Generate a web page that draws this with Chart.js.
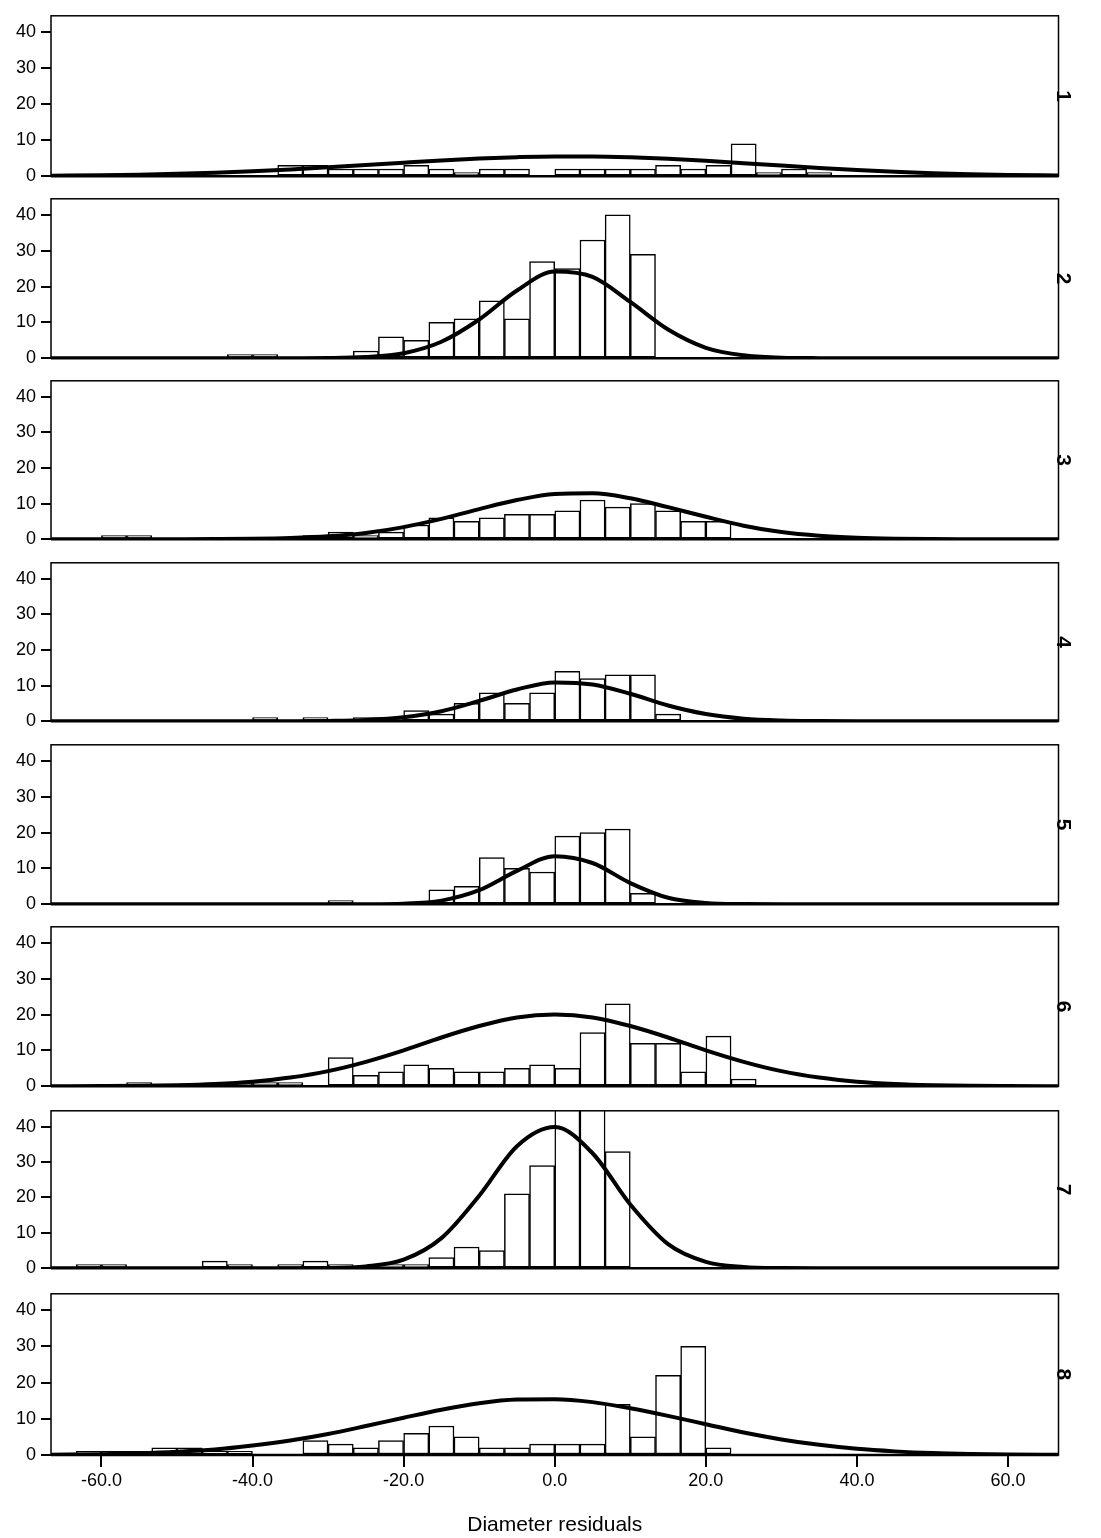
<!DOCTYPE html>
<html><head><meta charset="utf-8">
<script src="https://cdn.jsdelivr.net/npm/chart.js@4.4.0/dist/chart.umd.min.js"></script>
<style>
html,body{margin:0;padding:0;background:#fff;}
#wrap{position:relative;width:1101px;height:1538px;overflow:hidden;background:#fff;}
#wrap canvas{position:absolute;left:0;}
</style></head><body><div id="wrap"></div>
<script>
// ---------- DATA ----------
const binCenters = [-65.00, -61.67, -58.33, -55.00, -51.67, -48.33, -45.00, -41.67, -38.33, -35.00,
  -31.67, -28.33, -25.00, -21.67, -18.33, -15.00, -11.67, -8.33, -5.00, -1.67,
  1.67, 5.00, 8.33, 11.67, 15.00, 18.33, 21.67, 25.00, 28.33, 31.67,
  35.00, 38.33, 41.67, 45.00, 48.33, 51.67, 55.00, 58.33, 61.67, 65.00];

const countsG1 = [0,0,0,0,0,0,0,0,0,3, 3,2,2,2,3,2,1,2,2,0, 2,2,2,2,3,2,3,9,1,2, 1,0,0,0,0,0,0,0,0,0];
const countsG2 = [0,0,0,0,0,0,0,1,1,0, 0,0,2,6,5,10,11,16,11,27, 25,33,40,29,0,0,0,0,0,0, 0,0,0,0,0,0,0,0,0,0];
const countsG3 = [0,0,1,1,0,0,0,0,0,0, 1,2,1,2,4,6,5,6,7,7, 8,11,9,10,8,5,5,0,0,0, 0,0,0,0,0,0,0,0,0,0];
const countsG4 = [0,0,0,0,0,0,0,0,1,0, 1,0,1,1,3,2,5,8,5,8, 14,12,13,13,2,0,0,0,0,0, 0,0,0,0,0,0,0,0,0,0];
const countsG5 = [0,0,0,0,0,0,0,0,0,0, 0,1,0,0,0,4,5,13,10,9, 19,20,21,3,0,0,0,0,0,0, 0,0,0,0,0,0,0,0,0,0];
const countsG6 = [0,0,0,1,0,0,0,1,1,1, 0,8,3,4,6,5,4,4,5,6, 5,15,23,12,12,4,14,2,0,0, 0,0,0,0,0,0,0,0,0,0];
const countsG7 = [0,1,1,0,0,0,2,1,0,1, 2,1,0,1,1,3,6,5,21,29, 47,47,33,0,0,0,0,0,0,0, 0,0,0,0,0,0,0,0,0,0];
const countsG8 = [0,1,1,1,2,2,1,1,0,0, 4,3,2,4,6,8,5,2,2,3, 3,3,14,5,22,30,2,0,0,0, 0,0,0,0,0,0,0,0,0,0];

const curveX = [-66.67, -60, -55, -50, -45, -40, -35, -30, -25, -20, -15, -10, -5, 0,
  5, 10, 15, 20, 25, 30, 35, 40, 45, 50, 55, 60, 66.67];

const curveG1 = [0.12,0.27,0.43,0.66,0.97,1.37,1.87,2.45,3.1,3.75,4.37,4.9,5.28,5.48,5.47,5.25,4.85,4.28,3.62,2.95,2.3,1.72,1.23,0.85,0.56,0.35,0.18];
const curveG2 = [0,0,0,0,0,0,0.01,0.05,0.32,1.4,4.6,10.8,18.9,24.2,22.7,15.7,8.0,2.9,0.8,0.16,0.02,0,0,0,0,0,0];
const curveG3 = [0,0,0,0.01,0.04,0.12,0.33,0.8,1.76,3.4,5.7,8.45,11.0,12.7,12.9,11.5,9.0,6.3,3.8,2.0,0.95,0.4,0.14,0.04,0.01,0,0];
const curveG4 = [0,0,0,0,0,0,0.01,0.08,0.33,1.1,2.8,5.7,8.9,10.9,10.3,7.7,4.4,2.0,0.7,0.19,0.04,0,0,0,0,0,0];
const curveG5 = [0,0,0,0,0,0,0,0,0.01,0.15,1.0,3.9,9.3,13.4,11.5,5.9,1.8,0.34,0.04,0,0,0,0,0,0,0,0];
const curveG6 = [0.01,0.04,0.1,0.26,0.6,1.25,2.4,4.2,6.8,10,13.6,16.8,19.2,20,19.2,16.8,13.6,10,6.8,4.2,2.4,1.25,0.6,0.26,0.1,0.04,0.01];
const curveG7 = [0,0,0,0,0,0,0,0.05,0.5,2.4,8.5,20.5,34.5,39.9,32.5,18.0,6.8,1.8,0.35,0.04,0,0,0,0,0,0,0];
const curveG8 = [0.08,0.23,0.46,0.87,1.5,2.6,4.0,5.8,8.0,10.3,12.5,14.3,15.3,15.4,14.6,12.9,10.8,8.5,6.2,4.3,2.8,1.7,1.0,0.53,0.27,0.13,0.05];

const panelLabels = ['1','2','3','4','5','6','7','8'];
const xTickStep = 20;
const yTickStep = 10;
const xTitle = 'Diameter residuals';

// ---------- LAYOUT ----------
const allCounts = [countsG1,countsG2,countsG3,countsG4,countsG5,countsG6,countsG7,countsG8];
const allCurves = [curveG1,curveG2,curveG3,curveG4,curveG5,curveG6,curveG7,curveG8];
const panelTop = [12, 195, 377, 559, 741, 923, 1107, 1290];
const panelBottom = [180, 362, 543, 725, 908, 1090, 1272, 1455];
const W = 1101, H = 1538;
const areaLeft = 51, areaRight = 1058.5;
const PAD = 12;
const FONT = "'Liberation Sans', Arial, Helvetica, sans-serif";

const framePlugin = {
  id: 'frame',
  afterDatasetsDraw(chart) {
    const {ctx, chartArea: a} = chart;
    ctx.save();
    ctx.strokeStyle = '#000';
    ctx.lineWidth = 1.5;
    ctx.strokeRect(a.left, a.top, a.right - a.left, a.bottom - a.top);
    ctx.lineWidth = 2.5;
    ctx.beginPath(); ctx.moveTo(a.left, a.bottom); ctx.lineTo(a.right, a.bottom); ctx.stroke();
    ctx.restore();
  }
};

const wrap = document.getElementById('wrap');
for (let i = 0; i < 8; i++) {
  const isLast = i === 7;
  const top = panelTop[i] - PAD;
  const h = isLast ? H - top : (panelBottom[i] - panelTop[i]) + 2 * PAD;
  const cv = document.createElement('canvas');
  cv.width = W; cv.height = h;
  cv.style.top = top + 'px';
  cv.style.width = W + 'px'; cv.style.height = h + 'px';
  wrap.appendChild(cv);
  const counts = allCounts[i], curve = allCurves[i];
  const xScale = {
    type: 'linear', min: -66.67, max: 66.67, offset: false, display: isLast, position: 'bottom',
    grid: { display: true, drawOnChartArea: false, drawTicks: true, tickLength: 12, color: '#000', lineWidth: 2, offset: false },
    border: { display: false },
    ticks: { stepSize: xTickStep, includeBounds: false, autoSkip: false, maxRotation: 0, padding: 3,
             color: '#000', font: { family: FONT, size: 18 }, callback: v => Number(v).toFixed(1) },
    title: { display: true, text: xTitle, color: '#000', font: { family: FONT, size: 21 }, padding: { top: 0, bottom: 0 } }
  };
  if (isLast) xScale.afterFit = function (s) { s.height = H - panelBottom[7]; };
  new Chart(cv, {
    type: 'bar',
    data: {
      datasets: [
        { type: 'line', data: curveX.map((x, j) => ({x, y: curve[j]})),
          borderColor: '#000', borderWidth: 4, pointRadius: 0,
          cubicInterpolationMode: 'monotone', fill: false, order: 0 },
        { type: 'bar', data: binCenters.map((x, j) => ({x, y: counts[j] ? counts[j] : null})),
          backgroundColor: '#fff', borderColor: '#000', borderWidth: 1.5, borderSkipped: false,
          barPercentage: 1, categoryPercentage: 1, order: 1 }
      ]
    },
    options: {
      responsive: false, animation: false, devicePixelRatio: 1,
      layout: { padding: { top: PAD, bottom: isLast ? 0 : PAD, left: 0, right: 0 } },
      plugins: { legend: { display: false }, tooltip: { enabled: false } },
      scales: {
        x: xScale,
        y: {
          position: 'left', min: 0, max: 44.5,
          grid: { drawOnChartArea: false, drawTicks: true, tickLength: 10, color: '#000', lineWidth: 2 },
          border: { display: false },
          ticks: { stepSize: yTickStep, includeBounds: false, autoSkip: false, padding: 5, color: '#000', font: { family: FONT, size: 18 } },
          afterFit(s) { s.width = areaLeft; }
        },
        yR: {
          position: 'right', min: 0, max: 44.5,
          grid: { display: false }, border: { display: false }, ticks: { display: false },
          title: { display: true, text: panelLabels[i], color: '#000', font: { family: FONT, size: 21, weight: 'bold' }, padding: { top: 26, bottom: 0 } },
          afterFit(s) { s.width = W - areaRight; }
        }
      }
    },
    plugins: [framePlugin]
  });
}
</script></body></html>
